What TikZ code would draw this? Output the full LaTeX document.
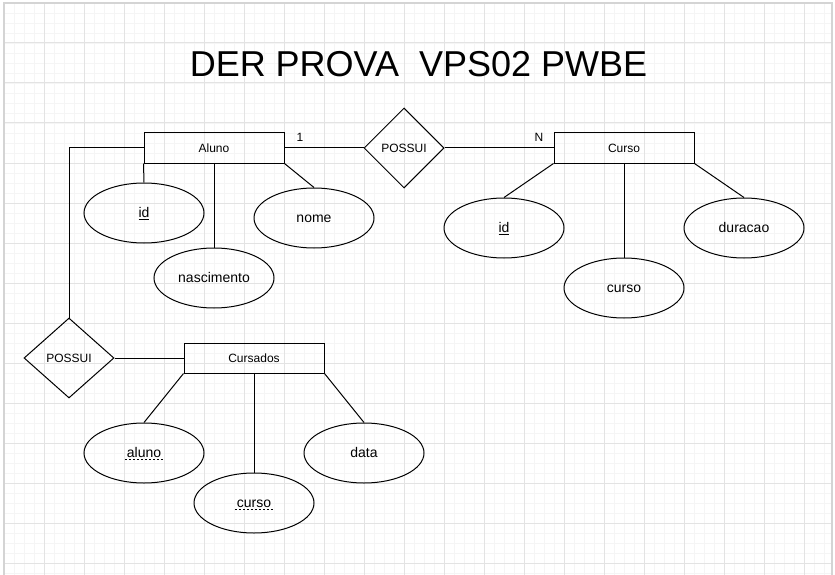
\documentclass[tikz,border=0pt]{standalone}
\usepackage{fontspec}
\setmainfont{Liberation Sans}
\usetikzlibrary{shapes.geometric}
\newcommand\dashul[1]{\setbox0=\hbox{\ #1\ }\rlap{\raisebox{-2pt}{\hbox to\wd0{\cleaders\hbox{\kern0.8pt\rule{2.4pt}{0.7pt}\kern0.8pt}\hfill}}}\box0}
\begin{document}
\begin{tikzpicture}[x=1pt, y=-1pt, line width=1pt,
  entity/.style={draw, minimum width=140, minimum height=30, inner sep=0, text height=10.9, text depth=2.5, font=\fontsize{12}{14}\selectfont},
  attrib/.style={draw, ellipse, minimum width=120, minimum height=60, inner sep=0, text height=12.7, text depth=3, font=\fontsize{14}{16}\selectfont},
  relation/.style={draw, diamond, minimum height=80, inner sep=0, text height=10.9, text depth=2.5, font=\fontsize{12}{14}\selectfont},
  card/.style={inner sep=0, text height=10.9, text depth=2.5, font=\fontsize{12}{14}\selectfont},
  minorgrid/.style={line width=0.6pt, black!4},
  majorgrid/.style={line width=1pt, black!11}]
  \useasboundingbox (0,0) rectangle (835,575);
  \fill[white] (0,0) rectangle (835,575);
  \foreach \gx in {14,24,...,824} \draw[minorgrid] (\gx,3) -- (\gx,575);
  \foreach \gy in {13,23,...,573} \draw[minorgrid] (4,\gy) -- (832,\gy);
  \foreach \gx in {44,84,...,804} \draw[majorgrid] (\gx,3) -- (\gx,575);
  \foreach \gy in {43,83,...,563} \draw[majorgrid] (4,\gy) -- (832,\gy);
  \draw[line width=1.5pt, black!17] (4,576) -- (4,3) -- (832,3) -- (832,576);
  \node[anchor=base, inner sep=0, font=\fontsize{36}{40}\selectfont] (title) at (418.5,77) {DER PROVA\ \ VPS02 PWBE};
  \node[entity] (aluno) at (214,148) {Aluno};
  \node[relation, minimum width=80] (possuiA) at (404,148) {POSSUI};
  \node[entity] (curso) at (624,148) {Curso};
  \node[relation, minimum width=90] (possuiB) at (69,358) {POSSUI};
  \node[entity] (cursados) at (254,358) {Cursados};
  \node[attrib] (idAluno) at (144,213) {\underline{id}};
  \node[attrib] (nascimento) at (214,278) {nascimento};
  \node[attrib] (nome) at (314,218) {nome};
  \node[attrib] (idCurso) at (504,228) {\underline{id}};
  \node[attrib] (cursoNome) at (624,288) {curso};
  \node[attrib] (duracao) at (744,228) {duracao};
  \node[attrib] (cursAluno) at (144,453) {\dashul{aluno}};
  \node[attrib] (cursCurso) at (254,503) {\dashul{curso}};
  \node[attrib] (cursData) at (364,453) {data};
  \node[card] (um) at (300,137) {1};
  \node[card] (ene) at (539,137) {N};
  \draw (aluno.east) -- (possuiA.west);
  \draw (possuiA.east) -- (curso.west);
  \draw (aluno.west) -| (possuiB.north);
  \draw (possuiB.east) -- (cursados.west);
  \draw (aluno.south west) -- (idAluno.north);
  \draw (aluno.south) -- (nascimento.north);
  \draw (aluno.south east) -- (nome.north);
  \draw (curso.south west) -- (idCurso.north);
  \draw (curso.south) -- (cursoNome.north);
  \draw (curso.south east) -- (duracao.north);
  \draw (cursados.south west) -- (cursAluno.north);
  \draw (cursados.south) -- (cursCurso.north);
  \draw (cursados.south east) -- (cursData.north);
\end{tikzpicture}
\end{document}
